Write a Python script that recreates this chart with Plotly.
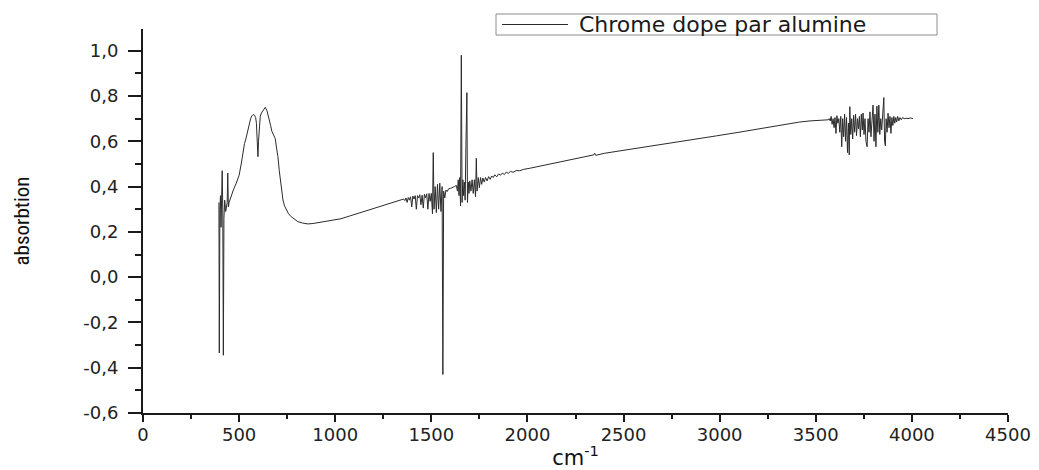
import plotly.graph_objects as go

# ---- data ----
series_name = "Chrome dope par alumine"

wavenumber_start = [395, 397, 400, 403, 406, 409, 412, 415, 418, 421, 425, 430, 435, 438, 441, 444, 448, 452, 458]
absorb_start = [0.33, -0.335, 0.30, 0.36, 0.22, 0.34, 0.47, 0.30, -0.345, 0.26, 0.34, 0.29, 0.31, 0.33, 0.46, 0.31, 0.33, 0.34, 0.36]

wavenumber_band = [460, 470, 485, 500, 511, 520, 528, 535, 542, 548, 554, 560, 566, 573, 580, 586, 590, 594, 598,
                   601, 605, 610, 616, 625, 636, 645, 652, 658, 664, 670, 676, 682, 688, 694, 702, 709, 716, 722,
                   728, 736, 745, 757, 771, 788, 806, 830, 858, 885, 910, 935, 962, 997]
absorb_band = [0.37, 0.385, 0.415, 0.45, 0.50, 0.55, 0.59, 0.61, 0.635, 0.66, 0.687, 0.70, 0.712, 0.718, 0.715, 0.705,
               0.68, 0.56, 0.532, 0.60, 0.68, 0.71, 0.725, 0.738, 0.75, 0.735, 0.715, 0.694, 0.67, 0.645, 0.635,
               0.625, 0.612, 0.575, 0.532, 0.47, 0.415, 0.37, 0.341, 0.315, 0.297, 0.28, 0.267, 0.255, 0.245,
               0.239, 0.235, 0.237, 0.241, 0.245, 0.25, 0.254]

wavenumber_mid = [1030, 1075, 1125, 1179, 1230, 1283, 1320, 1352]
absorb_mid = [0.258, 0.27, 0.283, 0.297, 0.31, 0.323, 0.333, 0.341]

wavenumber_noise1 = [1356, 1362, 1368, 1374, 1380, 1386, 1392, 1398, 1404, 1410, 1416, 1422, 1428, 1434, 1440, 1446,
                     1452, 1458, 1464, 1470, 1476, 1482, 1488, 1494, 1500, 1506, 1510, 1514, 1520, 1526, 1532, 1538,
                     1544, 1550, 1556, 1560, 1564, 1570, 1576, 1582, 1590, 1600, 1610, 1620, 1630]
absorb_noise1 = [0.345, 0.338, 0.35, 0.33, 0.352, 0.34, 0.355, 0.31, 0.358, 0.345, 0.36, 0.30, 0.36, 0.35, 0.364,
                 0.32, 0.362, 0.305, 0.366, 0.35, 0.368, 0.30, 0.37, 0.335, 0.37, 0.28, 0.55, 0.30, 0.40, 0.285, 0.41,
                 0.30, 0.415, 0.29, 0.40, -0.43, 0.38, 0.35, 0.385, 0.378, 0.39, 0.392, 0.395, 0.40, 0.405]

wavenumber_noise2 = [1636, 1640, 1644, 1648, 1652, 1656, 1660, 1664, 1668, 1672, 1676, 1680, 1685, 1688, 1692, 1696,
                     1700, 1706, 1712, 1718, 1724, 1730, 1734, 1738, 1744, 1750, 1756, 1762, 1768, 1775, 1782, 1790,
                     1798, 1806, 1814, 1822, 1830, 1840, 1850, 1860, 1870, 1880, 1890, 1900, 1912, 1925, 1942, 1960,
                     1980, 2012]
absorb_noise2 = [0.38, 0.43, 0.36, 0.44, 0.315, 0.98, 0.33, 0.43, 0.36, 0.42, 0.34, 0.58, 0.815, 0.33, 0.42, 0.37,
                 0.425, 0.38, 0.43, 0.37, 0.43, 0.355, 0.525, 0.38, 0.44, 0.395, 0.44, 0.41, 0.438, 0.42, 0.44, 0.425,
                 0.444, 0.432, 0.447, 0.44, 0.452, 0.443, 0.456, 0.45, 0.46, 0.453, 0.464, 0.458, 0.467, 0.463, 0.471,
                 0.47, 0.476, 0.481]

wavenumber_slope = [2100, 2200, 2300, 2345, 2350, 2355, 2400, 2500, 2636, 2750, 2850, 2983, 3100, 3157, 3250, 3350,
                    3415, 3470, 3521, 3560]
absorb_slope = [0.497, 0.515, 0.532, 0.54, 0.547, 0.538, 0.547, 0.56, 0.576, 0.592, 0.607, 0.624, 0.64, 0.648,
                0.662, 0.677, 0.685, 0.69, 0.694, 0.695]

wavenumber_noise3 = [3565, 3570, 3575, 3580, 3585, 3590, 3595, 3600, 3605, 3610, 3615, 3620, 3625, 3630, 3635, 3640,
                     3645, 3650, 3655, 3660, 3665, 3670, 3674, 3677, 3682, 3687, 3692, 3697, 3702, 3707, 3712, 3717,
                     3722, 3727, 3732, 3737, 3742, 3746, 3751, 3756, 3761, 3767, 3772, 3777, 3782, 3787, 3792, 3798,
                     3803, 3808, 3813, 3818, 3823, 3828, 3833, 3838, 3843, 3848, 3854, 3858, 3862, 3866, 3871, 3876,
                     3881, 3886, 3891, 3896, 3901, 3906, 3911, 3916, 3921, 3926, 3932, 3938, 3945, 3952, 3960, 3970,
                     3980, 3992, 4006]
absorb_noise3 = [0.695, 0.70, 0.69, 0.71, 0.675, 0.70, 0.66, 0.705, 0.635, 0.713, 0.68, 0.70, 0.64, 0.71, 0.576,
                 0.70, 0.62, 0.72, 0.60, 0.705, 0.55, 0.68, 0.54, 0.753, 0.63, 0.70, 0.61, 0.715, 0.64, 0.72, 0.625,
                 0.70, 0.655, 0.71, 0.62, 0.72, 0.65, 0.725, 0.63, 0.70, 0.60, 0.576, 0.70, 0.64, 0.73, 0.62, 0.715,
                 0.76, 0.60, 0.72, 0.576, 0.755, 0.64, 0.76, 0.63, 0.70, 0.65, 0.725, 0.793, 0.60, 0.58, 0.70, 0.64,
                 0.724, 0.66, 0.71, 0.635, 0.705, 0.67, 0.71, 0.68, 0.705, 0.685, 0.71, 0.69, 0.705, 0.695, 0.705,
                 0.70, 0.702, 0.70, 0.703, 0.70]

y_tick_values = [-0.6, -0.4, -0.2, 0.0, 0.2, 0.4, 0.6, 0.8, 1.0]
y_tick_labels = ["-0,6", "-0,4", "-0,2", "0,0", "0,2", "0,4", "0,6", "0,8", "1,0"]
x_tick_values = [0, 500, 1000, 1500, 2000, 2500, 3000, 3500, 4000, 4500]
x_tick_labels = ["0", "500", "1000", "1500", "2000", "2500", "3000", "3500", "4000", "4500"]

wavenumber = (wavenumber_start + wavenumber_band + wavenumber_mid + wavenumber_noise1 +
              wavenumber_noise2 + wavenumber_slope + wavenumber_noise3)
absorbance = (absorb_start + absorb_band + absorb_mid + absorb_noise1 +
              absorb_noise2 + absorb_slope + absorb_noise3)

AXIS_COLOR = "#1a1a1a"
LINE_COLOR = "#2b2b2b"
FONT_WIDE = "DejaVu Sans, Verdana, sans-serif"
TICK_FONT = dict(family=FONT_WIDE, size=18, color="#222222")

# the page body adds an 8 px offset, so the figure is 8 px smaller than the window
OFFSET = 8
W, H = 1039 - OFFSET, 470 - OFFSET
ML, MT = 143 - OFFSET, 29 - OFFSET
MR, MB = 31, 57
PW, PH = W - ML - MR, H - MT - MB


def px_x(p):
    return (p - OFFSET - ML) / PW


def px_y(p):
    return (H - MB - (p - OFFSET)) / PH


fig = go.Figure()
fig.add_trace(go.Scatter(
    x=wavenumber, y=absorbance, mode="lines", name=series_name,
    line=dict(color=LINE_COLOR, width=1), showlegend=False,
))

# legend drawn as a framed box with a line sample and the series name
legend_y = px_y(24.5)
fig.add_shape(type="rect", xref="paper", yref="paper",
              x0=px_x(496), x1=px_x(937), y0=px_y(35), y1=px_y(14),
              line=dict(color="#8c8c8c", width=1), fillcolor="white")
fig.add_shape(type="line", xref="paper", yref="paper",
              x0=px_x(502), x1=px_x(568), y0=legend_y, y1=legend_y,
              line=dict(color=LINE_COLOR, width=1))
fig.add_annotation(xref="paper", yref="paper", x=px_x(577), y=legend_y,
                   xanchor="left", yanchor="middle", showarrow=False,
                   text=series_name,
                   font=dict(family=FONT_WIDE, size=22, color="#1a1a1a"))

fig.update_layout(
    width=W, height=H,
    margin=dict(l=ML, r=MR, t=MT, b=MB, autoexpand=False),
    paper_bgcolor="white", plot_bgcolor="white",
    showlegend=False,
)

fig.update_xaxes(
    range=[0, 4500], tickmode="array", tickvals=x_tick_values, ticktext=x_tick_labels,
    showline=True, linecolor=AXIS_COLOR, linewidth=2,
    ticks="outside", ticklen=7, tickwidth=2, tickcolor=AXIS_COLOR,
    minor=dict(tickmode="linear", tick0=250, dtick=500, ticks="outside", ticklen=4, tickwidth=2, tickcolor=AXIS_COLOR),
    showgrid=False, zeroline=False, tickfont=TICK_FONT, ticklabelstandoff=-3, automargin=False,
    title=dict(text="cm<sup>-1</sup>", font=dict(family=FONT_WIDE, size=21, color="#111111"),
               standoff=27),
)
fig.update_yaxes(
    range=[-0.6, 1.096], tickmode="array", tickvals=y_tick_values, ticktext=y_tick_labels,
    showline=True, linecolor=AXIS_COLOR, linewidth=2,
    ticks="outside", ticklen=13, tickwidth=2, tickcolor=AXIS_COLOR,
    minor=dict(tickmode="linear", tick0=-0.5, dtick=0.2, ticks="outside", ticklen=6, tickwidth=2, tickcolor=AXIS_COLOR),
    showgrid=False, zeroline=False, tickfont=TICK_FONT, ticklabelstandoff=6, automargin=False,
    title=dict(text="absorbtion",
               font=dict(family="Liberation Sans Narrow, Roboto Condensed, Liberation Sans, sans-serif", size=21, color="#111111"),
               standoff=48),
)

fig.write_html("out.html")
